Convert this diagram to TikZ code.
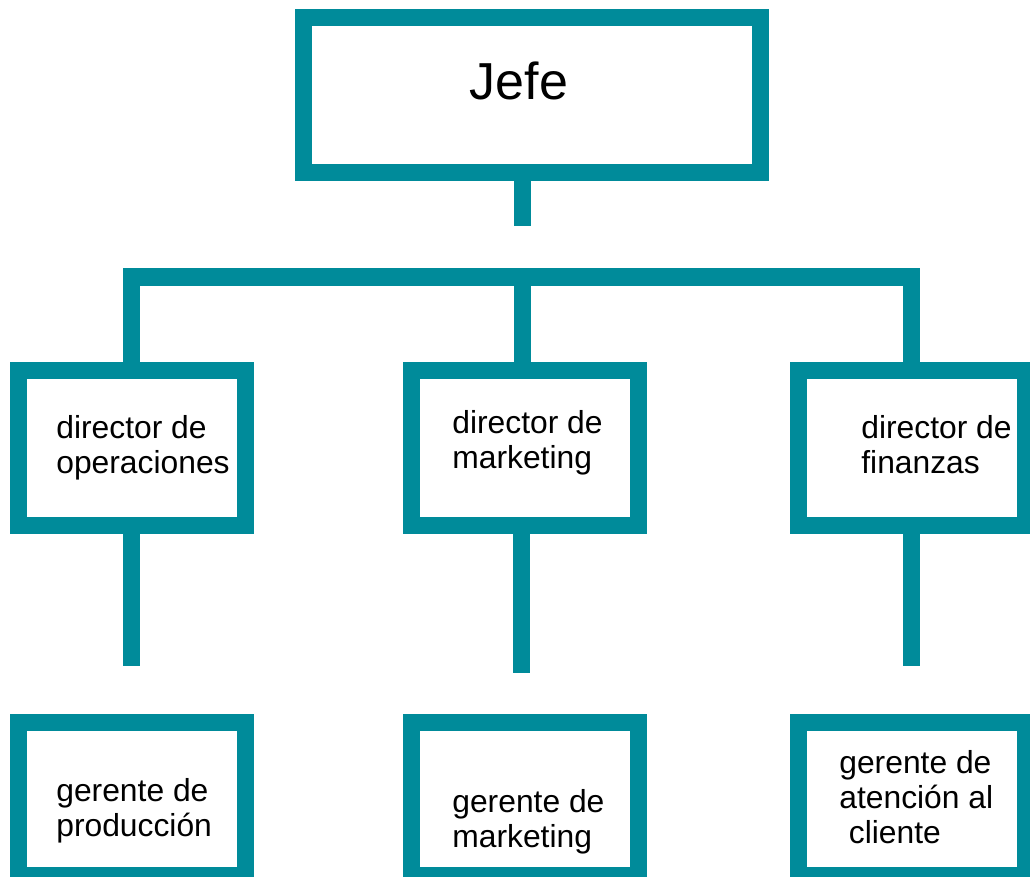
\documentclass[tikz,border=0pt]{standalone}
\usepackage{fontspec}
\setmainfont{Liberation Sans}
\definecolor{verde}{RGB}{0,139,154}
\begin{document}
\begin{tikzpicture}[scale=0.2]
		\tikzstyle{every node}+=[inner sep=0pt]
		\tikzstyle{caja}=[draw=verde, line width=3.4mm, minimum width=4.55cm, minimum height=3.1cm]
		\tikzstyle{linea}=[draw=verde, line width=3.4mm, line join=miter]
		\tikzstyle{texto}=[anchor=north west, align=left, font=\fontsize{18.1}{19.9}\selectfont]
		\useasboundingbox (0,0) rectangle (103,-87.7);
		% cajas
		\node [caja, minimum width=9.14cm] (jefe) at (53.2,-9.5) {};
		\node [caja] (dop) at (13.2,-44.8) {};
		\node [caja] (dmk) at (52.5,-44.8) {};
		\node [caja] (dfi) at (91.2,-44.8) {};
		\node [caja, minimum height=3.07cm] (gpr) at (13.2,-79.875) {};
		\node [caja, minimum height=3.07cm] (gmk) at (52.5,-79.875) {};
		\node [caja, minimum height=3.07cm] (gat) at (91.2,-79.875) {};
		% textos
		\node [anchor=north, font=\fontsize{29.6}{35}\selectfont] (jefe-t) at (51.9,-6.2) {Jefe};
		\node [texto] (dop-t) at (5.6,-41.47) {director de\\operaciones};
		\node [texto] (dmk-t) at (45.2,-40.97) {director de\\marketing};
		\node [texto] (dfi-t) at (86.1,-41.47) {director de\\finanzas};
		\node [texto] (gpr-t) at (5.6,-77.77) {gerente de\\producción};
		\node [texto] (gmk-t) at (45.2,-78.87) {gerente de\\marketing};
		\node [texto] (gat-t) at (83.9,-74.97) {gerente de\\atención al\\\hspace*{0.3em}cliente};
		% lineas
		\coordinate (tronco) at (52.3,-22.6);
		\coordinate (barra) at (52.3,-27.7);
		\draw [linea] (jefe.south -| tronco) -- (tronco);
		\draw [linea] (dop.north) |- (dfi.north |- barra) -- (dfi.north);
		\draw [linea] (barra) -- (barra |- dmk.north);
		\coordinate (fop) at (13.2,-66.6);
		\coordinate (fmk) at (52.2,-67.3);
		\coordinate (ffi) at (91.2,-66.6);
		\draw [linea] (dop.south) -- (fop);
		\draw [linea] (dmk.south -| fmk) -- (fmk);
		\draw [linea] (dfi.south) -- (ffi);
	\end{tikzpicture}
\end{document}
